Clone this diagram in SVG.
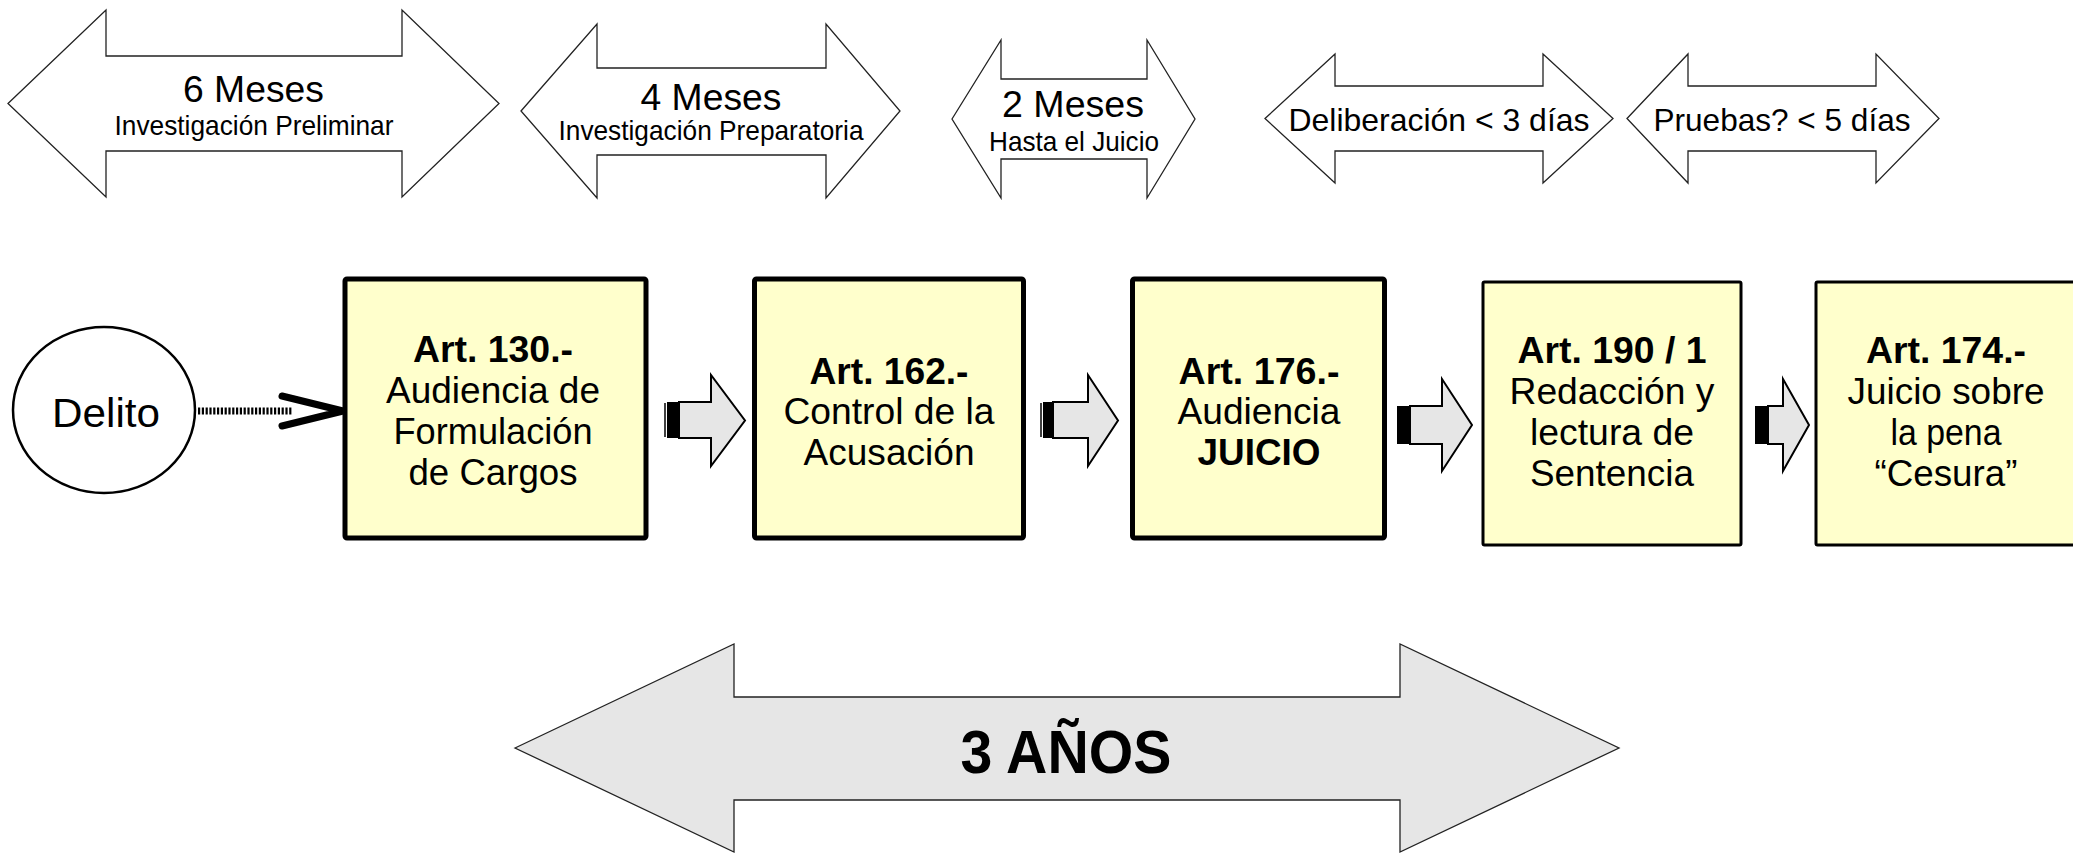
<svg xmlns="http://www.w3.org/2000/svg" width="2073" height="856" viewBox="0 0 2073 856">
<style>
text{font-family:"Liberation Sans",Arial,sans-serif;fill:#000;text-anchor:middle}
.dbl{fill:#fff;stroke:#222;stroke-width:1.3;stroke-linejoin:miter}
.big{fill:#e6e6e6;stroke:#222;stroke-width:1.3}
.box{fill:#ffffcc;stroke:#000;stroke-width:5}
.box2{fill:#ffffcc;stroke:#000;stroke-width:3}
.b{font-weight:bold}
.t{font-size:37px}
.s{font-size:28px}
.bt{font-size:37px}
.blk{fill:#e6e6e6;stroke:#000;stroke-width:2;stroke-linejoin:miter}
</style>
<rect width="2073" height="856" fill="#fff"/>

<g id="dur-6meses">
<polygon class="dbl" points="8,103.5 106,10 106,56 402,56 402,10 499,103.5 402,197 402,151 106,151 106,197"/>
<text class="t" x="253.5" y="102" textLength="141" lengthAdjust="spacingAndGlyphs">6 Meses</text>
<text class="s" x="254" y="135" textLength="279" lengthAdjust="spacingAndGlyphs">Investigación Preliminar</text>
</g>
<g id="dur-4meses">
<polygon class="dbl" points="521,111 597,24 597,68 826,68 826,24 900,111 826,198 826,155 597,155 597,198"/>
<text class="t" x="711" y="110" textLength="141" lengthAdjust="spacingAndGlyphs">4 Meses</text>
<text class="s" x="711" y="140" textLength="305" lengthAdjust="spacingAndGlyphs">Investigación Preparatoria</text>
</g>
<g id="dur-2meses">
<polygon class="dbl" points="952,119 1001,40 1001,79 1147,79 1147,40 1195,119 1147,198 1147,159 1001,159 1001,198"/>
<text class="t" x="1073" y="117" textLength="142" lengthAdjust="spacingAndGlyphs">2 Meses</text>
<text class="s" x="1074" y="151" textLength="170" lengthAdjust="spacingAndGlyphs">Hasta el Juicio</text>
</g>
<g id="dur-deliberacion">
<polygon class="dbl" points="1265,118.5 1335,54 1335,86 1543,86 1543,54 1613,118.5 1543,183 1543,151 1335,151 1335,183"/>
<text style="font-size:32px" x="1439" y="131" textLength="301" lengthAdjust="spacingAndGlyphs">Deliberación &lt; 3 días</text>
</g>
<g id="dur-pruebas">
<polygon class="dbl" points="1627,118.5 1688,54 1688,86 1876,86 1876,54 1939,118.5 1876,183 1876,151 1688,151 1688,183"/>
<text style="font-size:32px" x="1782" y="131" textLength="257" lengthAdjust="spacingAndGlyphs">Pruebas? &lt; 5 días</text>
</g>

<g id="delito">
<ellipse cx="104" cy="410" rx="91" ry="83" fill="#fff" stroke="#000" stroke-width="2.5"/>
<text style="font-size:41px" x="106" y="427" textLength="108" lengthAdjust="spacingAndGlyphs">Delito</text>
</g>

<g id="art130">
<rect class="box" x="345" y="279" width="301" height="259" rx="2"/>
<text class="bt b" x="493" y="362" textLength="160" lengthAdjust="spacingAndGlyphs">Art. 130.-</text>
<text class="bt" x="493" y="403" textLength="214" lengthAdjust="spacingAndGlyphs">Audiencia de</text>
<text class="bt" x="493" y="444" textLength="199" lengthAdjust="spacingAndGlyphs">Formulación</text>
<text class="bt" x="493" y="485" textLength="169" lengthAdjust="spacingAndGlyphs">de Cargos</text>
</g>
<g id="art162">
<rect class="box" x="754.5" y="279" width="269" height="259" rx="2"/>
<text class="bt b" x="889" y="384" textLength="159" lengthAdjust="spacingAndGlyphs">Art. 162.-</text>
<text class="bt" x="889" y="424" textLength="211" lengthAdjust="spacingAndGlyphs">Control de la</text>
<text class="bt" x="889" y="465" textLength="171" lengthAdjust="spacingAndGlyphs">Acusación</text>
</g>
<g id="art176">
<rect class="box" x="1132.5" y="279" width="252" height="259" rx="2"/>
<text class="bt b" x="1259" y="384" textLength="161" lengthAdjust="spacingAndGlyphs">Art. 176.-</text>
<text class="bt" x="1259" y="424" textLength="163" lengthAdjust="spacingAndGlyphs">Audiencia</text>
<text class="bt b" x="1259" y="465" textLength="123" lengthAdjust="spacingAndGlyphs">JUICIO</text>
</g>
<g id="art190">
<rect class="box2" x="1483" y="282" width="258" height="263" rx="1.5"/>
<text class="bt b" x="1612" y="363" textLength="189" lengthAdjust="spacingAndGlyphs">Art. 190 / 1</text>
<text class="bt" x="1612" y="404" textLength="205" lengthAdjust="spacingAndGlyphs">Redacción y</text>
<text class="bt" x="1612" y="445" textLength="164" lengthAdjust="spacingAndGlyphs">lectura de</text>
<text class="bt" x="1612" y="486" textLength="164" lengthAdjust="spacingAndGlyphs">Sentencia</text>
</g>
<g id="art174">
<rect class="box2" x="1816" y="282" width="270" height="263" rx="1.5"/>
<text class="bt b" x="1946" y="363" textLength="160" lengthAdjust="spacingAndGlyphs">Art. 174.-</text>
<text class="bt" x="1946" y="404" textLength="197" lengthAdjust="spacingAndGlyphs">Juicio sobre</text>
<text class="bt" x="1946" y="445" textLength="111" lengthAdjust="spacingAndGlyphs">la pena</text>
<text class="bt" x="1946" y="486" textLength="143" lengthAdjust="spacingAndGlyphs">“Cesura”</text>
</g>

<g id="connectors">
<line x1="198" y1="411" x2="292" y2="411" stroke="#000" stroke-width="7" stroke-dasharray="2.2 1.6"/>
<polyline points="282,396 343,411 282,426" fill="none" stroke="#000" stroke-width="7" stroke-linecap="round" stroke-linejoin="miter"/>
<g id="flow1">
<polygon class="blk" points="679,402 711,402 711,375 745,420.5 711,466 711,438 679,438"/>
<rect x="667" y="402" width="12" height="36" fill="#000"/>
<line x1="665" y1="403" x2="665" y2="437" stroke="#000" stroke-width="1.5"/>
</g>
<g id="flow2">
<polygon class="blk" points="1053,402 1088,402 1088,375 1118,420.5 1088,466 1088,438 1053,438"/>
<rect x="1043" y="402" width="10" height="36" fill="#000"/>
<line x1="1041" y1="403" x2="1041" y2="437" stroke="#000" stroke-width="1.5"/>
</g>
<g id="flow3">
<polygon class="blk" points="1410,406 1442,406 1442,379 1472,425 1442,471 1442,444 1410,444"/>
<rect x="1397" y="406" width="13" height="38" fill="#000"/>
</g>
<g id="flow4">
<polygon class="blk" points="1768,406 1783,406 1783,379 1809,425 1783,471 1783,444 1768,444"/>
<rect x="1755" y="406" width="13" height="38" fill="#000"/>
</g>
</g>

<g id="dur-3anos">
<polygon class="big" points="515,748 734,644 734,697 1400,697 1400,644 1619,748 1400,852 1400,800 734,800 734,852"/>
<text class="b" style="font-size:62px" x="1066" y="773" textLength="211" lengthAdjust="spacingAndGlyphs">3 AÑOS</text>
</g>
</svg>
